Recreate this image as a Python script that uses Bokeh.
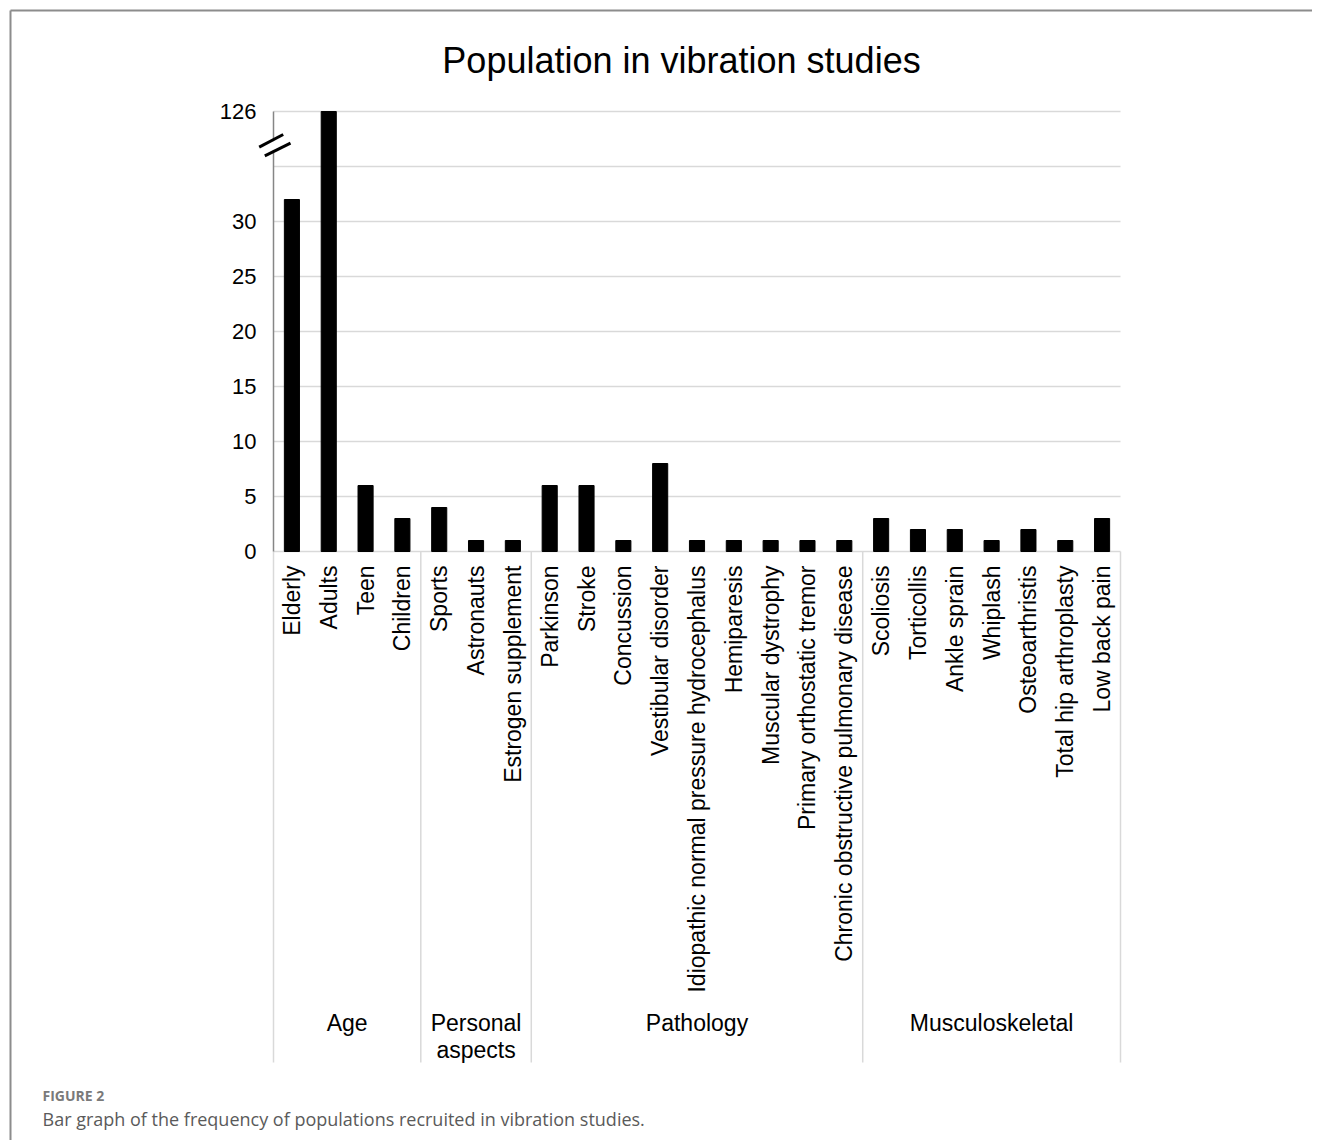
import math
from bokeh.plotting import figure
from bokeh.models import Range1d, LinearAxis, FixedTicker
from bokeh.core.properties import value
from bokeh.embed import file_html
from bokeh.resources import INLINE

# ---------------- data ----------------
title_text = "Population in vibration studies"
groups = ["Age", "Personal aspects", "Pathology", "Musculoskeletal"]
group_sizes = [4, 3, 9, 7]
categories = [
    "Elderly", "Adults", "Teen", "Children",
    "Sports", "Astronauts", "Estrogen supplement",
    "Parkinson", "Stroke", "Concussion", "Vestibular disorder",
    "Idiopathic normal pressure hydrocephalus", "Hemiparesis",
    "Muscular dystrophy", "Primary orthostatic tremor",
    "Chronic obstructive pulmonary disease",
    "Scoliosis", "Torticollis", "Ankle sprain", "Whiplash",
    "Osteoarthristis", "Total hip arthroplasty", "Low back pain",
]
counts = [32, 126, 6, 3, 4, 1, 1, 6, 6, 1, 8, 1, 1, 1, 1, 1, 3, 2, 2, 1, 2, 1, 3]
y_tick_values = [0, 5, 10, 15, 20, 25, 30, 126]
caption_head = "FIGURE 2"
caption_text = "Bar graph of the frequency of populations recruited in vibration studies."

# ---------------- broken axis mapping ----------------
BREAK_LOW = 35      # values up to here are drawn to scale
BREAK_TOP = 40      # axis position used for values above the break


def axis_pos(v):
    return v if v <= BREAK_LOW else BREAK_TOP


heights = [axis_pos(v) for v in counts]
tick_pos = [axis_pos(v) for v in y_tick_values]
tick_overrides = {axis_pos(v): str(v) for v in y_tick_values if v > BREAK_LOW}
grid_pos = list(range(0, BREAK_TOP + 1, 5))

# ---------------- layout (page pixels -> data) ----------------
W, H = 1312, 1140
PAGE = 0
AX_LEFT, AX_RIGHT = 273.0, 1120.0
Y0 = 551.0
PX_PER_CAT = (AX_RIGHT - AX_LEFT) / len(categories)
PX_PER_UNIT = 11.0


def xd(px):
    return (px - AX_LEFT) / PX_PER_CAT


def yd(py):
    return (Y0 - py) / PX_PER_UNIT


p = figure(width=W, height=H,
           x_range=Range1d(xd(PAGE), xd(PAGE + W)),
           y_range=Range1d(yd(PAGE + H), yd(PAGE)),
           output_backend="svg", toolbar_location=None,
           x_axis_location=None, y_axis_location=None,
           min_border=0, min_border_left=0, min_border_right=0,
           min_border_top=0, min_border_bottom=0,
           outline_line_color=None,
           background_fill_color="white", border_fill_color="white")
p.grid.visible = False

FONT = value("Liberation Sans")
n = len(categories)
xs = [i + 0.5 for i in range(n)]

# outer frame (top and left border)
p.segment(x0=[xd(10), xd(10)], y0=[yd(10), yd(10)],
          x1=[xd(1330), xd(10)], y1=[yd(10), yd(1160)],
          line_color="#8c8c8c", line_width=2)

# horizontal grid lines
p.segment(x0=[0] * len(grid_pos), x1=[n] * len(grid_pos), y0=grid_pos, y1=grid_pos,
          line_color="#d9d9d9", line_width=1.5)

# group separators below the axis
bounds = [0]
for s in group_sizes:
    bounds.append(bounds[-1] + s)
p.segment(x0=bounds, x1=bounds, y0=[0] * len(bounds), y1=[yd(1062)] * len(bounds),
          line_color="#d9d9d9", line_width=1.5)

# bars
p.vbar(x=xs, top=heights, width=0.41, color="black")

# category labels (rotated)
p.text(x=xs, y=[yd(565)] * n, text=categories, angle=math.pi / 2,
       text_align="right", text_baseline="middle",
       text_font=FONT, text_font_size="23px", text_color="black")

# group labels
centers = [(bounds[i] + bounds[i + 1]) / 2 for i in range(len(groups))]
group_lines = [g.replace("Personal ", "Personal\n") for g in groups]
p.text(x=centers, y=[yd(1009)] * len(groups), text=group_lines,
       text_align="center", text_baseline="top", text_line_height=1.05,
       text_font=FONT, text_font_size="23px", text_color="black")

# y axis
yaxis = LinearAxis(fixed_location=0, ticker=FixedTicker(ticks=tick_pos),
                   major_label_overrides=tick_overrides,
                   bounds=(0, BREAK_TOP),
                   axis_line_color="#868686", axis_line_width=1.5,
                   major_tick_line_color=None, minor_tick_line_color=None,
                   major_tick_in=0, major_tick_out=0,
                   major_label_standoff=17,
                   major_label_text_font="Liberation Sans",
                   major_label_text_font_size="22px",
                   major_label_text_color="black")
p.add_layout(yaxis, "left")

# axis break marks "//"
p.segment(x0=[xd(261.5)], y0=[yd(151)], x1=[xd(286.3)], y1=[yd(138.3)],
          line_color="white", line_width=8, level="overlay")
p.segment(x0=[xd(258.7), xd(264.3)], y0=[yd(146.7), yd(155.3)],
          x1=[xd(282.7), xd(290.0)], y1=[yd(134.0), yd(142.7)],
          line_color="black", line_width=3, level="overlay")

# title
p.text(x=[xd(681)], y=[yd(60)], text=[title_text], text_align="center",
       text_baseline="alphabetic", text_font=FONT, text_font_size="36px",
       text_color="black")

# caption
p.text(x=[xd(42)], y=[yd(1095)], text=[caption_head], text_align="left",
       text_baseline="alphabetic", text_font=value("Open Sans"),
       text_font_size="14px", text_font_style="bold", text_color="#7a7a7a")
p.text(x=[xd(42)], y=[yd(1118)], text=[caption_text], text_align="left",
       text_baseline="alphabetic", text_font=value("Open Sans"),
       text_font_size="18px", text_color="#5a5a5a")

open("out.html", "w").write(file_html(p, INLINE))
